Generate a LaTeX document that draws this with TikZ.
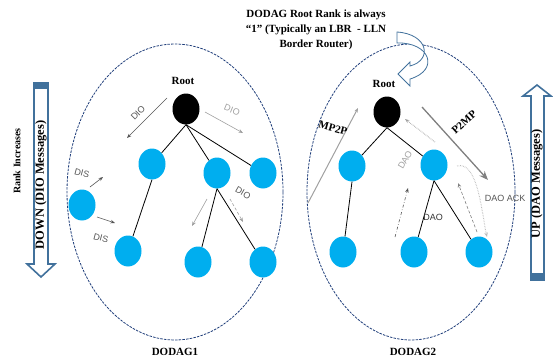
\documentclass[tikz,border=0pt]{standalone}
\usepackage{fontspec}
\setmainfont{Liberation Serif}
\setsansfont{Liberation Sans}
\usetikzlibrary{shapes.geometric,arrows.meta}
\definecolor{nodeblue}{HTML}{00AEEF}
\definecolor{ringblue}{HTML}{1F3D7A}
\definecolor{barblue}{HTML}{41719C}
\definecolor{msgdark}{HTML}{555555}
\definecolor{msglight}{HTML}{A0A0A0}

\tikzset{
  bluenode/.style={ellipse, fill=nodeblue, minimum width=27pt, minimum height=31pt, inner sep=0pt},
  rootnode/.style={bluenode, fill=black},
  ring/.style={draw=ringblue, line width=0.8pt, dash pattern=on 2.5pt off 1.2pt},
  tree/.style={draw=black, line width=0.8pt},
  msg/.style={-{Stealth[length=4.5pt,width=3.5pt]}, line width=0.6pt},
  sanslbl/.style={font=\sffamily\fontsize{9}{9}\selectfont},
  bar/.style={draw=barblue, line width=1.6pt, fill=white, line join=miter}
}

\begin{document}
\begin{tikzpicture}[x=1pt, y=-1pt, every node/.style={font=\bfseries\fontsize{11}{13}\selectfont}]
  \useasboundingbox (0,0) rectangle (553,359);

  % the two DODAGs
  \draw[ring] (175,192) ellipse [x radius=108, y radius=148];
  \draw[ring] (411,192) ellipse [x radius=104, y radius=148];
  \node (dodag1) at (175,352) {DODAG1};
  \node (dodag2) at (413,352) {DODAG2};

  % title and curved arrow
  \node[align=center, font=\bfseries\fontsize{11}{15}\selectfont] (title) at (316,30)
    {DODAG Root Rank is always\\ “1” (Typically an LBR\ \ - LLN\\ Border Router)};
  \draw[draw=barblue, line width=0.8pt, fill=white]
    (397,32) .. controls (428,34) and (433,60) .. (410,66)
    -- (410,62) -- (398,74) -- (410,86) -- (410,79)
    .. controls (440,70) and (430,42) .. (397,43) -- cycle;

  % side bars
  \draw[bar] (34,83) -- (48,83) -- (48,264) -- (55,264) -- (41,277) -- (27,264) -- (34,264) -- cycle;
  \fill[barblue] (34,83) rectangle (48,89);
  \node[rotate=90, font=\bfseries\fontsize{12.5}{13}\selectfont] (down) at (41,185) {DOWN (DIO Messages)};
  \node[rotate=90, font=\bfseries\fontsize{10}{12}\selectfont] (rank) at (17,161) {Rank Increases};

  \draw[bar] (531,280) -- (531,96) -- (523,96) -- (537,85) -- (551,96) -- (544,96) -- (544,280) -- cycle;
  \fill[barblue] (531,273) rectangle (544,280);
  \node[rotate=90, font=\bfseries\fontsize{12.5}{13}\selectfont] (up) at (537,184) {UP (DAO Messages)};

  % DODAG1 nodes
  \node (rootlblA) at (183,81) {Root};
  \node[rootnode] (rootA) at (186,109) {};
  \node[bluenode] (a1) at (152,164) {};
  \node[bluenode] (a2) at (217,173) {};
  \node[bluenode] (a3) at (263,173) {};
  \node[bluenode] (a4) at (82,205) {};
  \node[bluenode] (a11) at (128,251) {};
  \node[bluenode] (a21) at (198,262) {};
  \node[bluenode] (a22) at (263,262) {};

  \draw[tree] (rootA.south) -- (a1);
  \draw[tree] (rootA.south) -- (a2);
  \draw[tree] (rootA.south) -- (a3);
  \draw[tree] (a1.south) -- (a11);
  \draw[tree] (a2.south) -- (a21);
  \draw[tree] (a2.south) -- (a22);

  % DODAG1 messages
  \coordinate (dioA) at (167,98);   \coordinate (dioAend) at (127,138);
  \coordinate (dioB) at (205,112);  \coordinate (dioBend) at (243,133);
  \coordinate (disA) at (90,187);   \coordinate (disAend) at (103,177);
  \coordinate (disB) at (97,217);   \coordinate (disBend) at (115,223);
  \coordinate (dioC) at (207,199);  \coordinate (dioCend) at (192,226);
  \coordinate (dioD) at (230,199);  \coordinate (dioDend) at (243,222);
  \draw[msg, msgdark] (dioA) -- (dioAend);
  \draw[msg, msglight] (dioB) -- (dioBend);
  \draw[msg, msgdark] (disA) -- (disAend);
  \draw[msg, msgdark] (disB) -- (disBend);
  \draw[msg, msglight] (dioC) -- (dioCend);
  \draw[msg, msglight, densely dashed] (dioD) -- (dioDend);
  \node[sanslbl, text=msgdark, rotate=45] (dioAlbl) at (138,113) {DIO};
  \node[sanslbl, text=msglight, rotate=-22] (dioBlbl) at (232,110) {DIO};
  \node[sanslbl, text=msgdark, rotate=-15] (disAlbl) at (82,173) {DIS};
  \node[sanslbl, text=msgdark, rotate=-15] (disBlbl) at (101,238) {DIS};
  \node[sanslbl, text=msgdark, rotate=-30] (dioClbl) at (243,193) {DIO};

  % DODAG2 nodes
  \node (rootlblB) at (384,84) {Root};
  \node[rootnode] (rootB) at (387,112) {};
  \node[bluenode] (b1) at (352,166) {};
  \node[bluenode] (b2) at (434,165) {};
  \node[bluenode] (b11) at (343,252) {};
  \node[bluenode] (b21) at (414,252) {};
  \node[bluenode] (b22) at (479,252) {};

  \draw[tree] (rootB.south) -- (b1);
  \draw[tree] (rootB.south) -- (b2);
  \draw[tree] (b1.south) -- (b11);
  \draw[tree] (b2.south) -- (b21);
  \draw[tree] (b2.south) -- (b22);

  % DODAG2 messages
  \coordinate (mp) at (308,203);    \coordinate (mpend) at (358,108);
  \coordinate (pm) at (422,107);    \coordinate (pmend) at (488,180);
  \coordinate (daoA) at (435,142);  \coordinate (daoAend) at (405,119);
  \coordinate (daoB) at (395,237);  \coordinate (daoBend) at (408,188);
  \coordinate (daoC) at (477,232);  \coordinate (daoCend) at (458,183);
  \coordinate (ack) at (457,166);   \coordinate (ackend) at (487,237);
  \draw[msg, msglight, line width=1pt] (mp) -- (mpend);
  \draw[-{Stealth[length=9pt,width=7pt]}, draw=gray, fill=gray, line width=1.3pt] (pm) -- (pmend);
  \draw[msg, msglight, densely dotted, line width=0.9pt] (daoA) -- (daoAend);
  \draw[msg, msgdark, dash dot] (daoB) -- (daoBend);
  \draw[msg, gray, densely dashed] (daoC) -- (daoCend);
  \draw[msg, msglight!70, densely dotted, line width=1pt] (ack) .. controls (478,160) and (482,215) .. (ackend);
  \node[rotate=-15] (mplbl) at (333,128) {MP2P};
  \node[rotate=42, inner sep=1pt] (pmlbl) at (464,122) {P2MP};
  \node[sanslbl, text=msglight, rotate=60] (daoAlbl) at (405,160) {DAO};
  \node[sanslbl, text=black!80] (daoBlbl) at (433,217) {DAO};
  \node[sanslbl, text=msgdark] (acklbl) at (505,198) {DAO ACK};
\end{tikzpicture}
\end{document}
